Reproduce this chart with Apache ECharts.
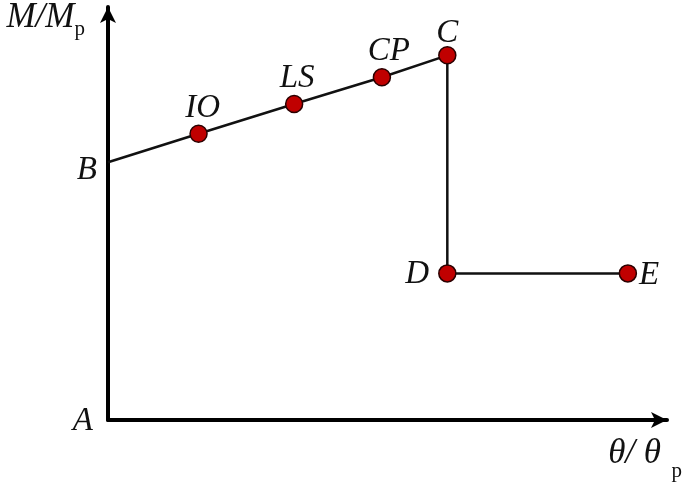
<!DOCTYPE html>
<html>
<head>
<meta charset="utf-8">
<script src="https://cdn.jsdelivr.net/npm/echarts@6/dist/echarts.min.js"></script>
<style>
  html, body { margin: 0; padding: 0; background: #fff; }
  #main { width: 685px; height: 482px; }
</style>
</head>
<body>
<div id="main"></div>
<script>
// points of the backbone curve
const pointNames = ['B', 'IO', 'LS', 'CP', 'C', 'D', 'E'];
const xValues = [0, 1.62, 3.33, 4.90, 6.07, 6.07, 9.30];
const yValues = [6.24, 6.93, 7.65, 8.30, 8.83, 3.55, 3.55];
const originName = 'A';

// label placement per point (style only)
const labelStyle = {
  B:  { position: 'left', distance: 11, offset: [0, 8] },
  IO: { position: 'top', distance: 0, offset: [4, 0] },
  LS: { position: 'top', distance: 0, offset: [3, 0] },
  CP: { position: 'top', distance: 0, offset: [7, 0] },
  C:  { position: 'top', distance: 0, offset: [0, 4] },
  D:  { position: 'left', distance: 9, offset: [0, 1] },
  E:  { position: 'right', distance: 2, offset: [0, 2] }
};

const serifItalic = {
  fontFamily: 'Liberation Serif',
  fontStyle: 'italic',
  fontSize: 33,
  color: '#111'
};

const chart = echarts.init(document.getElementById('main'));

let lineData = pointNames.map(function (n, i) {
  let ls = labelStyle[n];
  return {
    name: n,
    value: [xValues[i], yValues[i]],
    symbolSize: n == 'B' ? 0 : 17,
    label: {
      show: true,
      formatter: n,
      position: ls.position,
      distance: ls.distance,
      offset: ls.offset
    }
  };
});

function axisStyle() {
  return {
    axisLine: {
      show: true,
      symbol: ['none', 'arrow'],
      symbolSize: [12, 16],
      lineStyle: { color: '#000', width: 4 }
    },
    axisTick: { show: false },
    axisLabel: { show: false },
    splitLine: { show: false }
  };
}

const option = {
  animation: false,
  grid: { left: 108, right: 15, top: 3, bottom: 62 },
  xAxis: Object.assign({
    type: 'value',
    min: 0,
    max: 10,
    name: '{i|θ/ θ}{s|  p}',
    nameLocation: 'end',
    nameGap: 15,
    nameTextStyle: {
      align: 'right',
      verticalAlign: 'top',
      padding: [16, 0, 0, 0],
      rich: {
        i: Object.assign({}, serifItalic, { fontSize: 35, lineHeight: 38, verticalAlign: 'top' }),
        s: { fontFamily: 'Liberation Serif', fontSize: 21, color: '#111', lineHeight: 20, padding: [25, 0, 0, 0], verticalAlign: 'top' }
      }
    }
  }, axisStyle()),
  yAxis: Object.assign({
    type: 'value',
    min: 0,
    max: 10,
    name: '{i|M/M}{s|p}',
    nameLocation: 'end',
    nameGap: -31,
    nameTextStyle: {
      align: 'right',
      padding: [0, 23, 0, 0],
      rich: {
        i: Object.assign({}, serifItalic, { fontSize: 35, lineHeight: 38, verticalAlign: 'top' }),
        s: { fontFamily: 'Liberation Serif', fontSize: 21, color: '#111', lineHeight: 20, padding: [19, 0, 0, 0], verticalAlign: 'top' }
      }
    }
  }, axisStyle()),
  series: [
    {
      type: 'line',
      data: lineData,
      clip: false,
      symbol: 'circle',
      lineStyle: { color: '#111', width: 2.5 },
      itemStyle: { color: '#c00000', borderColor: '#2a0000', borderWidth: 1.5 },
      label: serifItalic,
      z: 3
    },
    {
      type: 'scatter',
      data: [{ name: originName, value: [0, 0] }],
      symbolSize: 0,
      clip: false,
      itemStyle: { opacity: 1 },
      label: Object.assign({}, serifItalic, {
        show: true,
        formatter: originName,
        position: 'left',
        distance: 15,
        offset: [0, 1]
      })
    }
  ]
};

chart.setOption(option);
</script>
</body>
</html>
